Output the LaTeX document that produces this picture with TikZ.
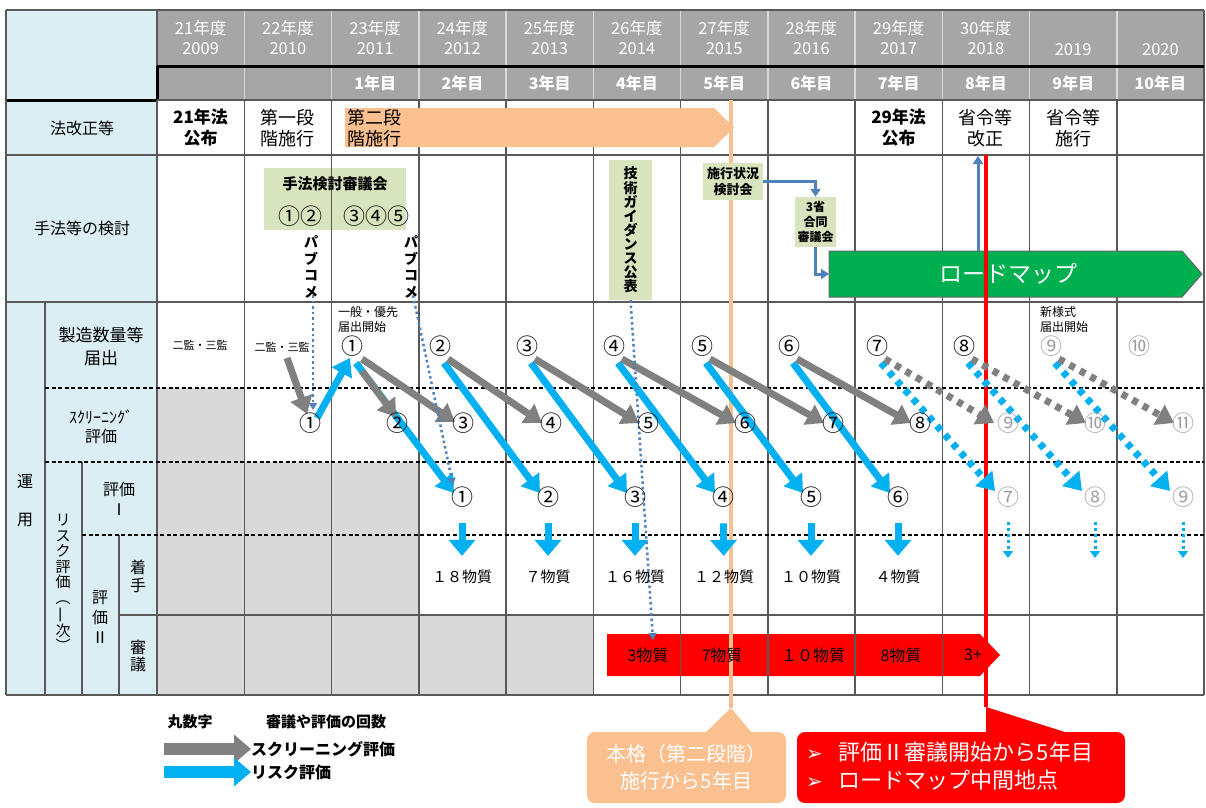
\documentclass[tikz,border=0pt]{standalone}
\usepackage{fontspec}
\setmainfont{Noto Sans CJK JP}
\newfontfamily\djv{DejaVu Sans}
\usetikzlibrary{arrows.meta,calc}
\definecolor{lblue}{HTML}{DAEEF3}
\definecolor{hgray}{HTML}{A6A6A6}
\definecolor{cgray}{HTML}{D9D9D9}
\definecolor{ogreen}{HTML}{D7E4BD}
\definecolor{rgreen}{HTML}{00B050}
\definecolor{sblue}{HTML}{00B0F0}
\definecolor{agray}{HTML}{808080}
\definecolor{lorange}{HTML}{FAC090}
\definecolor{pblue}{HTML}{4F81BD}
\definecolor{gline}{HTML}{595959}
\definecolor{lnum}{HTML}{A0A0A0}
\newcommand{\fsz}[2]{\fontsize{#1}{#2}\selectfont}
\pgfdeclarelayer{bg}
\pgfdeclarelayer{mid}
\pgfsetlayers{bg,mid,main}
\begin{document}
\begin{tikzpicture}[x=1pt,y=-1pt,
  hdr/.style={text=white, font=\fsz{16.5}{20}, align=center, inner sep=0pt},
  lab/.style={font=\fsz{16}{20}, align=center, inner sep=0pt},
  law/.style={font=\fsz{18}{21}, align=center, inner sep=0pt},
  cn/.style={font=\fsz{22}{22}, inner sep=0pt},
  lcn/.style={cn, text=lnum},
  sub/.style={font=\fsz{15}{15}, inner sep=0pt},
  gbox/.style={fill=ogreen, inner sep=0pt, align=center, font=\bfseries\fsz{13}{16}},
  garr/.style={agray, line width=7pt, -{Triangle[length=17pt,width=22pt]}},
  barr/.style={sblue, line width=7pt, -{Triangle[length=17pt,width=22pt]}},
  downarr/.style={sblue, line width=7pt, -{Triangle[length=16pt,width=26pt]}},
  dotarr/.style={dash pattern=on 6pt off 6pt},
  pbarr/.style={pblue, line width=2.5pt, dash pattern=on 2.5pt off 3pt, -{Triangle[length=7pt,width=8pt]}},
  conn/.style={pblue, line width=3pt, -{Triangle[length=8pt,width=10pt]}},
  grid/.style={gline, line width=1.5pt},
  dsh/.style={black, line width=1.2pt, dash pattern=on 4pt off 2.5pt},
  note/.style={font=\fsz{12}{15}, align=left, inner sep=0pt, anchor=west},
  legt/.style={font=\bfseries\fsz{15}{15}, inner sep=0pt},
]
\useasboundingbox (0,0) rectangle (1206,807);

% ---------------- background layer ----------------
\begin{pgfonlayer}{bg}
\fill[white] (0,0) rectangle (1206,807);
\fill[lblue] (6,10) rectangle (157,695);
\fill[hgray] (157,10) rectangle (1204,100);
\fill[cgray] (157,388) rectangle (244.25,695);
\fill[cgray] (244.25,462) rectangle (418.75,695);
\fill[cgray] (418.75,615) rectangle (593.25,695);
\node[gbox, minimum width=142pt, minimum height=62pt] (hk) at (335,199) {};
\fill[red] (607,634) -- (980,634) -- (1000,655) -- (980,676) -- (607,676) -- cycle;
% header lines
\foreach \k in {1,...,11} \draw[cgray, line width=1.5pt] ({157+87.25*\k},10) -- ({157+87.25*\k},100);
\draw[gline, line width=1.5pt] (6,10) -- (1204,10) (1204,10) -- (1204,100) (157,10) -- (157,66);
\draw[black, line width=3pt] (157,66) -- (1204,66) (157,66) -- (157,100) (6,100) -- (157,100);
% body grid
\foreach \k in {0,...,12} \draw[grid] ({157+87.25*\k},100) -- ({157+87.25*\k},695);
\draw[grid] (157,100) -- (1204,100);
\draw[gline, line width=2.5pt] (6,155) -- (1204,155) (6,302) -- (1204,302);
\draw[grid] (6,695) -- (1204,695) (6,10) -- (6,695) (45,302) -- (45,695) (82,462) -- (82,695) (119,535) -- (119,695);
\draw[dsh] (45,388) -- (1204,388) (45,462) -- (1204,462) (82,535) -- (1204,535);
\draw[grid] (119,615) -- (1204,615);
% orange stage arrow
\fill[lorange] (345,108) -- (714,108) -- (734,127.5) -- (714,147) -- (345,147) -- cycle;
% roadmap
\draw[fill=rgreen, draw=black!60, line width=1pt] (829,251) -- (1182,251) -- (1202,274) -- (1182,297) -- (829,297) -- cycle;
\node[text=white, font=\fsz{23}{23}, inner sep=0pt] (rm) at (1008,274) {ロードマップ};
\coordinate (rmL) at (829,274);
\coordinate (rmT) at (978,251);
\coordinate (up9) at (978,156);
% vertical marker lines
\coordinate (oT) at (731,100);
\coordinate (oB) at (731,708);
\coordinate (rT) at (986,155);
\coordinate (rB) at (986,707);
\draw[lorange, line width=3.5pt] (oT) -- (oB);
\draw[red, line width=4pt] (rT) -- (rB);
\end{pgfonlayer}

% ---------------- header ----------------
\foreach \t [count=\i from 0] in {{21年度\\2009},{22年度\\2010},{23年度\\2011},{24年度\\2012},{25年度\\2013},{26年度\\2014},{27年度\\2015},{28年度\\2016},{29年度\\2017},{30年度\\2018}}
  \node[hdr] (h\i) at ({200.625+87.25*\i},38) {\t};
\node[hdr] (h10) at (1073.1,50) {2019};
\node[hdr] (h11) at (1160.4,50) {2020};
\foreach \i in {2,...,11} {\pgfmathtruncatemacro\n{\i-1}\node[hdr, font=\bfseries\fsz{16}{16}] (n\i) at ({200.625+87.25*\i},83) {\n{}年目};}

% ---------------- law row ----------------
\node[law, font=\bfseries\fsz{17}{21}] (l0) at (200.6,128) {21年法\\公布};
\node[law] (l1) at (287.9,128) {第一段\\階施行};
\node[law, anchor=west, align=left] (l2) at (347,128) {第二段\\階施行};
\node[law, font=\bfseries\fsz{17}{21}] (l8) at (898.6,128) {29年法\\公布};
\node[law] (l9) at (985.9,128) {省令等\\改正};
\node[law] (l10) at (1073.1,128) {省令等\\施行};

% ---------------- left labels ----------------
\node[lab] (lb1) at (82,128) {法改正等};
\node[lab] (lb2) at (82,228) {手法等の検討};
\node[lab, font=\fsz{17}{23}] (lb3) at (101,346) {製造数量等\\届出};
\node[lab, font=\fsz{16}{19}] (lb4) at (101,427) {ｽｸﾘｰﾆﾝｸﾞ\\評価};
\node[lab, font=\fsz{16}{38}] (un) at (25,501) {運\\用};
\node[lab, font=\fsz{15}{15.5}] (rk) at (63,583) {リ\\ス\\ク\\評\\価\\︵\\\rotatebox[origin=c]{90}{一}\\次\\︶};
\node[lab, font=\fsz{16}{20}] (lb5) at (119,499) {評価\\Ⅰ};
\node[lab, font=\fsz{16}{20}] (lb6) at (100,617) {評\\価\\Ⅱ};
\node[lab, font=\fsz{16}{18}] (lb7) at (138,576) {着\\手};
\node[lab, font=\fsz{16}{17}] (lb8) at (138,656) {審\\議};

% ---------------- method row ----------------
\node[font=\bfseries\fsz{15}{15}, inner sep=0pt] (hk1) at (335,184) {手法検討審議会};
\node[cn] (hk2) at (300,216) {①②};
\node[cn] (hk3) at (376,216) {③④⑤};
\node[font=\bfseries\fsz{14}{16.5}, align=center, inner sep=0pt] (pb1) at (311,267) {パ\\ブ\\コ\\メ};
\node[font=\bfseries\fsz{14}{16.5}, align=center, inner sep=0pt] (pb2) at (411,267) {パ\\ブ\\コ\\メ};
\node[gbox, minimum width=43pt, minimum height=140pt, font=\bfseries\fsz{14}{14.1}] (tg) at (630.5,230) {技\\術\\ガ\\イ\\ダ\\ン\\ス\\公\\表};
\node[gbox, minimum width=60pt, minimum height=37pt, font=\bfseries\fsz{13}{16}] (sk) at (733,181.5) {施行状況\\検討会};
\node[gbox, minimum width=41pt, minimum height=50pt, font=\bfseries\fsz{12}{15}] (sg) at (815.5,222) {3省\\合同\\審議会};

% ---------------- operation rows ----------------
\node[font=\fsz{11}{11}, inner sep=0pt] (k0) at (200,345) {二監・三監};
\node[font=\fsz{11}{11}, inner sep=0pt] (k1) at (282,347) {二監・三監};
\node[note] (ip) at (338,319) {一般・優先\\届出開始};
\node[note] (ns) at (1040,319) {新様式\\届出開始};

\foreach \x/\c [count=\i] in {352/①,440/②,527/③,614/④,702/⑤,789/⑥,877/⑦,964/⑧}
  \node[cn] (t\i) at (\x,346) {\c};
\node[lcn] (t9) at (1051,346) {⑨};
\node[lcn] (t10) at (1139,346) {⑩};

\foreach \x/\c [count=\i] in {310/①,397/②,463/③,551/④,648/⑤,745/⑥,833/⑦,920/⑧}
  \node[cn] (s\i) at (\x,423) {\c};
\node[lcn] (s9) at (1008,423) {⑨};
\node[lcn] (s10) at (1095,423) {⑩};
\node[lcn] (s11) at (1183,423) {⑪};

\foreach \x/\c [count=\i] in {462/①,548/②,635/③,723/④,811/⑤,898/⑥}
  \node[cn] (r\i) at (\x,497) {\c};
\node[lcn] (r7) at (1008,497) {⑦};
\node[lcn] (r8) at (1095,497) {⑧};
\node[lcn] (r9) at (1183,497) {⑨};

\foreach \x/\c [count=\i] in {462/１８物質,548/７物質,635/１６物質,724/１２物質,811/１０物質,898/４物質}
  \node[sub] (m\i) at (\x,577) {\c};
\coordinate (e7) at (1008,558);
\coordinate (e8) at (1095,558);
\coordinate (e9) at (1183,558);

\node[sub, font=\fsz{16}{16}] (q1) at (648,655) {3物質};
\node[sub, font=\fsz{16}{16}] (q2) at (722,655) {7物質};
\node[sub, font=\fsz{16}{16}] (q3) at (813,655) {１０物質};
\node[sub, font=\fsz{16}{16}] (q4) at (901,655) {8物質};
\node[sub, font=\fsz{16}{16}] (q5) at (973,655) {3+};

% ---------------- arrows ----------------
\begin{pgfonlayer}{mid}
\draw[barr] ($(s1)+(7,-5)$) -- ($(t1)+(-2,12)$);
\foreach \i in {1,...,6} \draw[barr] ($(t\i)+(4,17)$) -- ($(r\i)+(-8,-4)$);
\foreach \i in {7,8,9} \draw[barr, dotarr] ($(t\i)+(4,17)$) -- ($(r\i)+(-13,-6)$);
\foreach \i in {1,...,6} \draw[downarr, shorten <=16pt, shorten >=14pt] (r\i) -- (m\i);
\foreach \i in {7,8,9} \draw[sblue, line width=3pt, dash pattern=on 3pt off 3pt, -{Triangle[length=7pt,width=10pt]}, shorten <=15pt] (r\i) -- (e\i);
\draw[garr] ($(k1)+(5,11)$) -- ($(s1)+(-3,-9)$);
\draw[garr] ($(t1)+(10,25)$) -- ($(s2)+(-1,-6)$);
\draw[garr] ($(t1)+(10,13)$) -- ($(s3)+(-8,-1)$);
\foreach \a/\b in {2/4,3/5,4/6,5/7,6/8} \draw[garr] ($(t\a)+(8,13)$) -- ($(s\b)+(-9,0)$);
\foreach \a/\b/\d in {7/9/14,8/10/9,9/11/9} \draw[garr, dotarr] ($(t\a)+(8,13)$) -- ($(s\b)+(-\d,0)$);
\draw[pbarr] ($(pb1.south)+(2,-3)$) -- ($(s1)+(3,-13)$);
\draw[pbarr] ($(pb2.south)+(2,-3)$) -- ($(r1)+(-9,-12)$);
\draw[pbarr] (tg.south) -- ($(q1)+(5,-15)$);
\draw[conn] (sk.east) -| (sg.north);
\draw[conn] (sg.south) |- (rmL);
\draw[conn] (rmT) -- (up9);
\end{pgfonlayer}

% ---------------- legend ----------------
\node[legt] (lg0) at (190,722) {丸数字};
\node[legt, anchor=west] (lg1) at (266,722) {審議や評価の回数};
\node[legt, font=\bfseries\fsz{16}{16}, anchor=west] (lg2) at (251,749) {スクリーニング評価};
\node[legt, font=\bfseries\fsz{16}{16}, anchor=west] (lg3) at (251,772) {リスク評価};
\coordinate (la1) at (164,749);
\coordinate (la2) at (164,772);
\draw[agray, line width=12pt, -{Triangle[length=17pt,width=28pt]}] (la1) -- (lg2.west);
\draw[sblue, line width=12pt, -{Triangle[length=17pt,width=28pt]}] (la2) -- (lg3.west);

% ---------------- callouts ----------------
\node[fill=lorange, rounded corners=8pt, minimum width=199pt, minimum height=71pt, text=white, font=\fsz{20}{27}, align=center, inner sep=0pt] (oc) at (686.5,767.5) {本格（第二段階）\\施行から5年目};
\fill[lorange] (705,733) -- (oB) -- (752,733) -- cycle;
\node[fill=red, rounded corners=8pt, minimum width=328pt, minimum height=71pt, inner sep=0pt] (rc) at (961,767.5) {};
\fill[red] (rB) -- (986,733) -- (1068,733) -- cycle;
\node[text=white, font=\fsz{22}{28}, align=left, anchor=west, inner sep=0pt] (rct) at (806,766) {{\djv\fsz{20}{28}➢}\hspace{16pt}評価Ⅱ審議開始から5年目\\{\djv\fsz{20}{28}➢}\hspace{16pt}ロードマップ中間地点};
\end{tikzpicture}
\end{document}
